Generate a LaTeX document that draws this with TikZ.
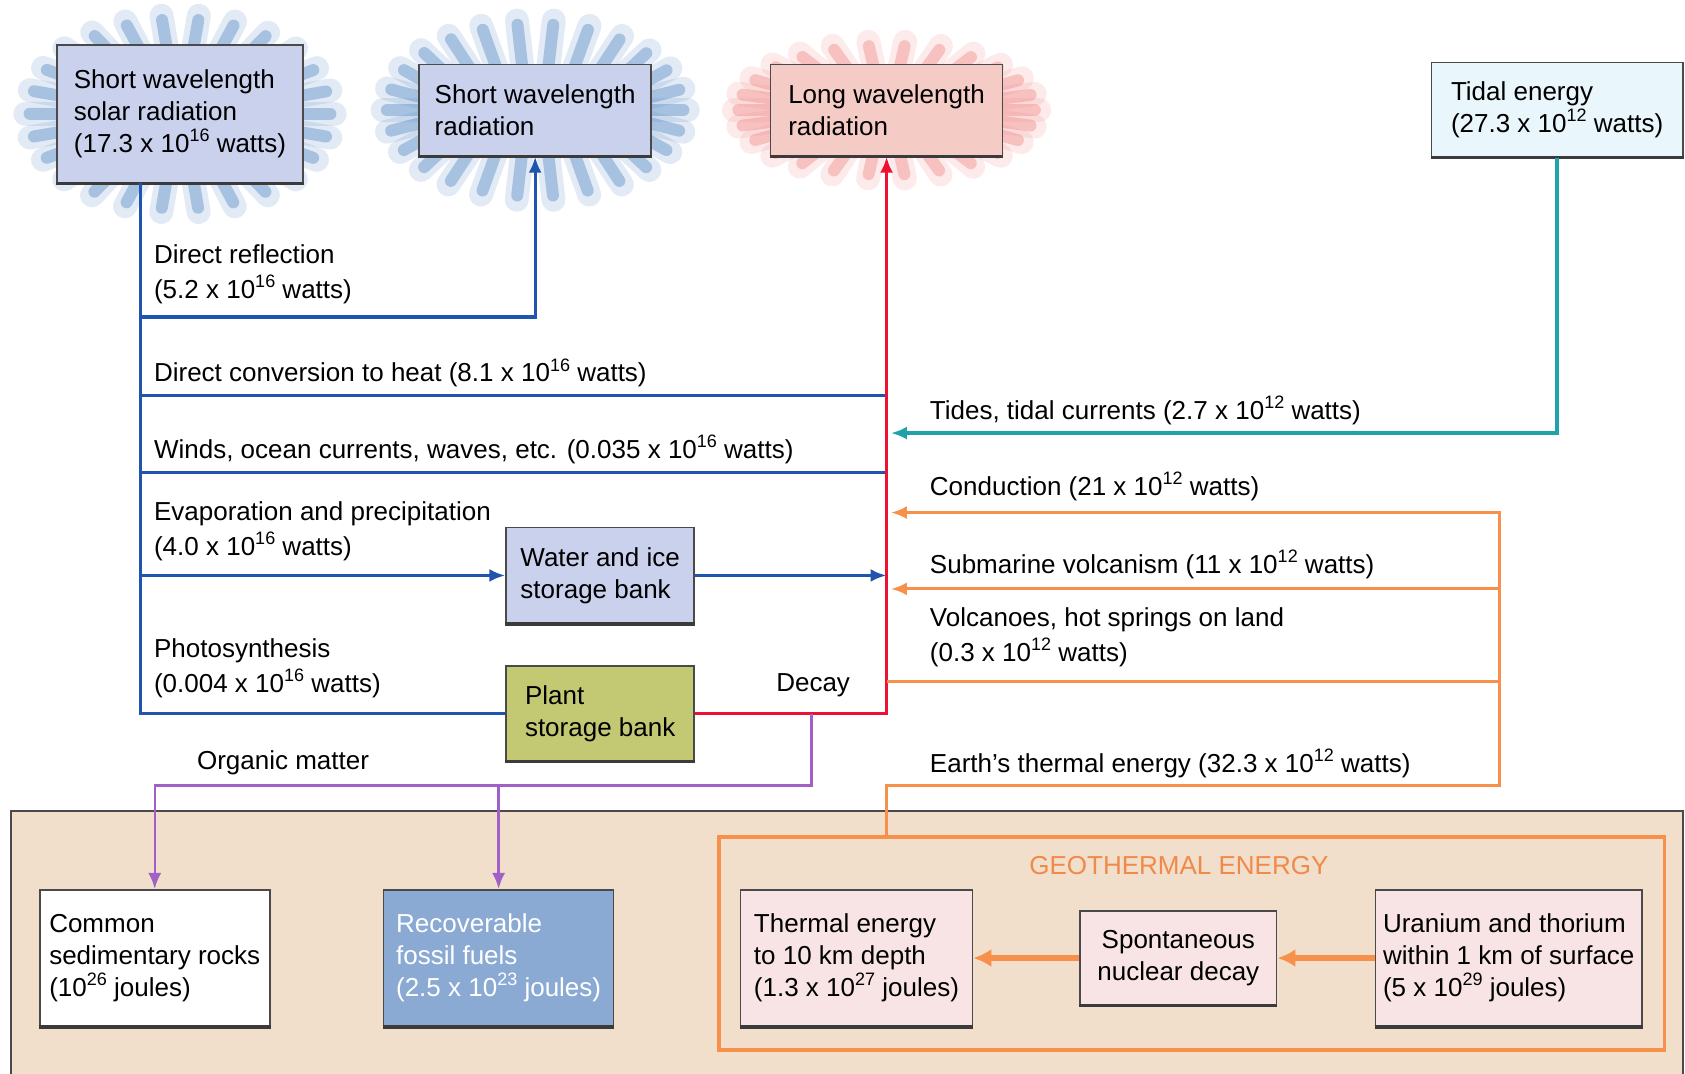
\documentclass[tikz,border=0pt]{standalone}
\usepackage{fontspec}
\setmainfont{Liberation Sans}
\usetikzlibrary{arrows.meta,calc}
\newdimen\pu \pu=0.5373pt
\newcommand\sxp[1]{\raisebox{0.42em}{\fontsize{9}{9}\selectfont #1}}
\definecolor{bline}{HTML}{1F55AE}
\definecolor{rline}{HTML}{EE1133}
\definecolor{tline}{HTML}{1FA3A8}
\definecolor{oline}{HTML}{F7904A}
\definecolor{pline}{HTML}{A060C8}
\definecolor{tan}{HTML}{F1DFCB}
\definecolor{boxblue}{HTML}{C9D1EC}
\definecolor{boxpink}{HTML}{F5CBC5}
\definecolor{boxcyan}{HTML}{E9F6FB}
\definecolor{boxolive}{HTML}{C3C873}
\definecolor{boxfossil}{HTML}{8AAAD4}
\definecolor{boxgeo}{HTML}{F8E4E4}
\definecolor{edge}{HTML}{4A4A4A}
\definecolor{rayblue}{HTML}{5F8FC6}
\definecolor{raypink}{HTML}{F08E8C}
\definecolor{geotext}{HTML}{F08A4B}
\begin{document}
\begin{tikzpicture}[x=0.5373pt,y=-0.5373pt,
  font=\fontsize{13}{16}\selectfont,
  bx/.style={draw=edge,line width=0.8pt,align=left,inner sep=0pt},
  lbl/.style={anchor=west,inner sep=0pt,align=left,font=\fontsize{13}{17.5}\selectfont},
  conn/.style={line width=1.6pt},
  tip/.style={-{Latex[length=8pt,width=6.5pt]}},
  ray/.style={line cap=round}
]
\useasboundingbox (0,0) rectangle (1568,999);
% bottom panel
\fill[tan] (10,755) rectangle (1566,1010);
\draw[edge,line width=0.9pt] (10,1010) -- (10,755) -- (1566,755) -- (1566,1010);

% starbursts
\foreach \a in {0,13.85,...,350}{
  \draw[ray,rayblue,opacity=0.18,line width=12pt] ($(167.5,106)+(\a:100 and 60)$) -- ($(167.5,106)+(\a:144 and 92)$);
  \draw[ray,rayblue,opacity=0.45,line width=6pt] ($(167.5,106)+(\a:100 and 60)$) -- ($(167.5,106)+(\a:140 and 88)$);
  \draw[ray,rayblue,opacity=0.18,line width=12pt] ($(498,102.5)+(\a:100 and 40)$) -- ($(498,102.5)+(\a:142 and 84)$);
  \draw[ray,rayblue,opacity=0.45,line width=6pt] ($(498,102.5)+(\a:100 and 40)$) -- ($(498,102.5)+(\a:138 and 80)$);
  \draw[ray,raypink,opacity=0.18,line width=12pt] ($(825,102.5)+(\a:100 and 40)$) -- ($(825,102.5)+(\a:142 and 64)$);
  \draw[ray,raypink,opacity=0.45,line width=6pt] ($(825,102.5)+(\a:100 and 40)$) -- ($(825,102.5)+(\a:138 and 60)$);
}

% boxes
\node[bx,fill=boxblue,minimum width=229*\pu,minimum height=128*\pu] (solar) at (167.5,106)
  {Short wavelength\\solar radiation\\(17.3 x 10\sxp{16} watts)};
\node[bx,fill=boxblue,minimum width=216*\pu,minimum height=85*\pu] (sw) at (498,102.5)
  {Short wavelength\\radiation};
\node[bx,fill=boxpink,minimum width=216*\pu,minimum height=85*\pu] (lw) at (825,102.5)
  {Long wavelength\\radiation};
\node[bx,fill=boxcyan,minimum width=234*\pu,minimum height=88*\pu] (tidal) at (1449,102)
  {Tidal energy\\(27.3 x 10\sxp{12} watts)};
\node[bx,fill=boxblue,minimum width=175*\pu,minimum height=89*\pu] (water) at (558.5,535.5)
  {Water and ice\\storage bank};
\node[bx,fill=boxolive,minimum width=175*\pu,minimum height=88*\pu] (plant) at (558.5,664)
  {Plant\\storage bank};
\node[bx,fill=white,minimum width=214*\pu,minimum height=127*\pu] (rocks) at (144,891.5)
  {Common\\sedimentary rocks\\(10\sxp{26} joules)};
\node[bx,fill=boxfossil,text=white,minimum width=214*\pu,minimum height=127*\pu] (fossil) at (464,891.5)
  {Recoverable\\fossil fuels\\(2.5 x 10\sxp{23} joules)};
\node[draw=oline,line width=1.8pt,minimum width=880*\pu,minimum height=198*\pu,inner sep=0pt] (geo) at (1109,878) {};
\node[text=geotext,inner sep=0pt] (geotitle) at (1097,805) {GEOTHERMAL ENERGY};
\node[bx,fill=boxgeo,minimum width=216*\pu,minimum height=127*\pu] (thermal) at (797,891.5)
  {Thermal energy\\to 10 km depth\\(1.3 x 10\sxp{27} joules)};
\node[bx,fill=boxgeo,align=center,minimum width=183*\pu,minimum height=87*\pu] (spont) at (1096.5,891.5)
  {Spontaneous\\nuclear decay};
\node[bx,fill=boxgeo,minimum width=248*\pu,minimum height=127*\pu] (uran) at (1404,891.5)
  {Uranium and thorium\\within 1 km of surface\\(5 x 10\sxp{29} joules)};
\foreach \n in {solar,sw,lw,tidal,water,plant,rocks,fossil,thermal,spont,uran}
  \draw[edge!80!black,line width=1.6pt] (\n.south west) -- (\n.south east);

% junction coordinates
\coordinate (tx) at (131,0);
\coordinate (refl) at (131,295);
\coordinate (conv) at (131,368);
\coordinate (wind) at (131,440);
\coordinate (rx) at (825,0);
\coordinate (tideend) at (829,403);
\coordinate (condend) at (829,477);
\coordinate (subst) at (1395,548);
\coordinate (subend) at (829,548);
\coordinate (volst) at (1395,634);
\coordinate (volend) at (825,634);
\coordinate (earthtop) at (1395,731);
\coordinate (ge) at (825,731);
\coordinate (dk) at (755,664);
\coordinate (om) at (755,731);

% blue connectors
\draw[bline,conn] (solar.south -| tx) |- (plant.west);
\draw[bline,conn,tip] (refl) -| (sw.south);
\draw[bline,conn] (conv) -- (conv -| rx);
\draw[bline,conn] (wind) -- (wind -| rx);
\draw[bline,conn,tip] (water.west -| tx) -- (water.west);
\draw[bline,conn,tip] (water.east) -- (water.east -| rx);
% red
\draw[rline,conn,tip] (plant.east) -| (lw.south);
% purple
\draw[pline,line width=1.2pt,tip] (dk) -- (om) -| (rocks.north);
\draw[pline,line width=1.2pt,tip] (fossil.north |- om) -- (fossil.north);
% teal
\draw[tline,line width=1.9pt,tip] (tidal.south) |- (tideend);
% orange
\draw[oline,conn,tip] (geo.north -| ge) |- (earthtop) |- (condend);
\draw[oline,conn,tip] (subst) -- (subend);
\draw[oline,conn] (volst) -- (volend);
\draw[oline,line width=3pt,-{Latex[length=9pt,width=9pt]}] (uran.west) -- (spont.east);
\draw[oline,line width=3pt,-{Latex[length=9pt,width=9pt]}] (spont.west) -- (thermal.east);

% labels
\node[lbl] (lrefl) at (143,255) {Direct reflection\\(5.2 x 10\sxp{16} watts)};
\node[lbl] (lconv) at (143,347) {Direct conversion to heat (8.1 x 10\sxp{16} watts)};
\node[lbl] (lwind) at (143,418) {Winds, ocean currents, waves, etc. (0.035 x 10\sxp{16} watts)};
\node[lbl] (levap) at (143,494.5) {Evaporation and precipitation\\(4.0 x 10\sxp{16} watts)};
\node[lbl] (lphoto) at (143,622) {Photosynthesis\\(0.004 x 10\sxp{16} watts)};
\node[lbl] (lorg) at (183,710) {Organic matter};
\node[lbl] (ldecay) at (722,638) {Decay};
\node[lbl] (ltide) at (865,382) {Tides, tidal currents (2.7 x 10\sxp{12} watts)};
\node[lbl] (lcond) at (865,453) {Conduction (21 x 10\sxp{12} watts)};
\node[lbl] (lsub) at (865,525) {Submarine volcanism (11 x 10\sxp{12} watts)};
\node[lbl] (lvol) at (865,593) {Volcanoes, hot springs on land\\(0.3 x 10\sxp{12} watts)};
\node[lbl] (learth) at (865,710) {Earth's thermal energy (32.3 x 10\sxp{12} watts)};
\end{tikzpicture}
\end{document}
